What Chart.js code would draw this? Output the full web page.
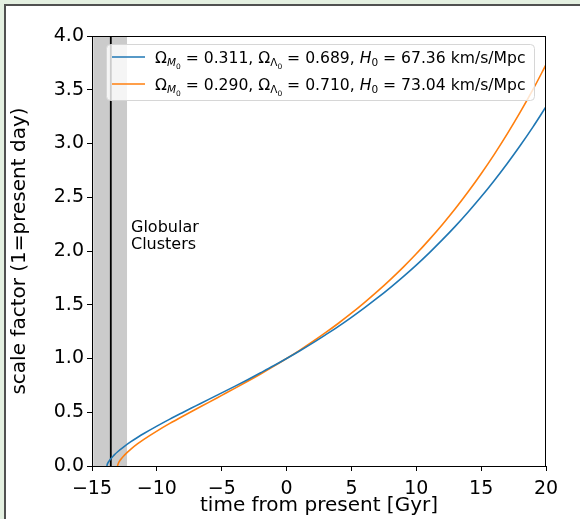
<!DOCTYPE html>
<html>
<head>
<meta charset="utf-8">
<script src="https://cdn.jsdelivr.net/npm/chart.js@4.4.1/dist/chart.umd.min.js"></script>
<style>
  body { margin: 0; background: #e4f0e1; }
  #panel { position: absolute; left: 4px; top: 4px; width: 576px; height: 515px; background: #fff;
           border-left: 2px solid #505050; border-top: 2px solid #505050; box-sizing: border-box; }
  #wrap { position: absolute; left: 0; top: 0; width: 580px; height: 519px; }
</style>
</head>
<body>
<div id="panel"></div>
<div id="wrap"><canvas id="scaleChart" width="580" height="519"></canvas></div>
<script>
// scale factor a(t), time in Gyr from present
const blueTime = [-13.86, -13.8, -13.6, -13.3, -13, -12.5, -12, -11.5, -11, -10, -9, -8, -7, -6, -5, -4, -3, -2, -1, 0,
                  1, 2, 3, 4, 5, 6, 7, 8, 9, 10, 11, 12, 13, 14, 15, 16, 17, 18, 19, 20];
const blueScale = [0, 0.022, 0.060, 0.101, 0.135, 0.183, 0.226, 0.265, 0.302, 0.371, 0.436, 0.498, 0.559, 0.620, 0.680, 0.741, 0.803, 0.867, 0.932, 1.0,
                   1.070, 1.143, 1.220, 1.299, 1.383, 1.471, 1.563, 1.660, 1.762, 1.869, 1.983, 2.103, 2.229, 2.363, 2.504, 2.654, 2.812, 2.979, 3.155, 3.342];

const orangeTime = [-13.03, -13, -12.8, -12.5, -12, -11.5, -11, -10, -9, -8, -7, -6, -5, -4, -3, -2, -1, 0,
                    1, 2, 3, 4, 5, 6, 7, 8, 9, 10, 11, 12, 13, 14, 15, 16, 17, 18, 19, 20];
const orangeScale = [0, 0.015, 0.058, 0.101, 0.157, 0.205, 0.248, 0.325, 0.396, 0.463, 0.528, 0.592, 0.657, 0.722, 0.788, 0.856, 0.927, 1.0,
                     1.076, 1.156, 1.240, 1.328, 1.421, 1.520, 1.624, 1.734, 1.850, 1.974, 2.106, 2.245, 2.393, 2.551, 2.719, 2.897, 3.087, 3.289, 3.503, 3.733];

const xTickValues = [-15, -10, -5, 0, 5, 10, 15, 20];
const yTickValues = [0, 0.5, 1, 1.5, 2, 2.5, 3, 3.5, 4];

// globular cluster age band and the marked age
const clusterBand = [-14.9, -12.3];
const clusterAge = -13.55;

const blue = '#1f77b4';
const orange = '#ff7f0e';
const FONT = '"DejaVu Sans", sans-serif';

const toPoints = (xs, ys) => xs.map((x, i) => ({ x: x, y: ys[i] }));

// gray band behind the curves
const bandPlugin = {
    id: 'band',
    beforeDatasetsDraw(chart) {
        const { ctx, chartArea, scales } = chart;
        const x0 = scales.x.getPixelForValue(clusterBand[0]);
        const x1 = scales.x.getPixelForValue(clusterBand[1]);
        ctx.save();
        ctx.fillStyle = '#cbcbcb';
        ctx.fillRect(x0, chartArea.top, x1 - x0, chartArea.bottom - chartArea.top);
        ctx.restore();
    }
};

// draws a string made of pieces with their own size / style / baseline shift
function drawPieces(ctx, pieces, x, y) {
    for (const p of pieces) {
        ctx.font = (p.italic ? 'italic ' : '') + p.size + 'px ' + FONT;
        ctx.fillText(p.t, x, y + (p.dy || 0));
        x += ctx.measureText(p.t).width;
    }
    return x;
}

function legendPieces(om, ol, h0) {
    const big = 15.6, sub = 10.5, sub2 = 7.5;
    return [
        { t: 'Ω', size: big },
        { t: 'M', size: sub, italic: true, dy: 3 },
        { t: '0', size: sub2, dy: 6 },
        { t: ' = ' + om + ', ', size: big },
        { t: 'Ω', size: big },
        { t: 'Λ', size: sub, dy: 3 },
        { t: '0', size: sub2, dy: 6 },
        { t: ' = ' + ol + ', ', size: big },
        { t: 'H', size: big, italic: true },
        { t: '0', size: sub, dy: 3 },
        { t: ' = ' + h0 + ' km/s/Mpc', size: big }
    ];
}

const overlayPlugin = {
    id: 'overlay',
    afterDatasetsDraw(chart) {
        const { ctx, chartArea } = chart;
        ctx.save();
        // top and right spines
        ctx.strokeStyle = '#000';
        ctx.lineWidth = 1;
        ctx.beginPath();
        ctx.moveTo(chartArea.left, chartArea.top + 0.5);
        ctx.lineTo(chartArea.right, chartArea.top + 0.5);
        ctx.moveTo(chartArea.right - 0.5, chartArea.top);
        ctx.lineTo(chartArea.right - 0.5, chartArea.bottom);
        ctx.stroke();

        // band label
        ctx.fillStyle = '#000';
        ctx.textBaseline = 'middle';
        ctx.font = '16px ' + FONT;
        ctx.fillText('Globular', 131, 228);
        ctx.fillText('Clusters', 131, 245);

        // legend
        const bx = 106, by = 44, bw = 428, bh = 56;
        ctx.beginPath();
        ctx.roundRect(bx + 0.5, by + 0.5, bw, bh, 4);
        ctx.fillStyle = 'rgba(255,255,255,0.8)';
        ctx.fill();
        ctx.strokeStyle = '#d6d6d6';
        ctx.stroke();

        const rows = [
            { color: blue, y: 57, pieces: legendPieces('0.311', '0.689', '67.36') },
            { color: orange, y: 84, pieces: legendPieces('0.290', '0.710', '73.04') }
        ];
        ctx.textBaseline = 'alphabetic';
        for (const r of rows) {
            ctx.strokeStyle = r.color;
            ctx.lineWidth = 1.6;
            ctx.beginPath();
            ctx.moveTo(112, r.y);
            ctx.lineTo(145, r.y);
            ctx.stroke();
            ctx.fillStyle = '#000';
            drawPieces(ctx, r.pieces, 155, r.y + 5.5);
        }
        ctx.restore();
    }
};

const ctx = document.getElementById('scaleChart').getContext('2d');
const scaleChart = new Chart(ctx, {
    type: 'line',
    data: {
        datasets: [
            {
                data: toPoints(blueTime, blueScale),
                borderColor: blue,
                borderWidth: 1.6,
                pointRadius: 0,
                cubicInterpolationMode: 'monotone'
            },
            {
                data: toPoints(orangeTime, orangeScale),
                borderColor: orange,
                borderWidth: 1.6,
                pointRadius: 0,
                cubicInterpolationMode: 'monotone'
            },
            {
                data: [{ x: clusterAge, y: 0 }, { x: clusterAge, y: 4 }],
                borderColor: '#000',
                borderWidth: 1.8,
                pointRadius: 0
            }
        ]
    },
    options: {
        responsive: false,
        animation: false,
        layout: { padding: { top: 36, right: 34, left: 0, bottom: 0 } },
        plugins: {
            legend: { display: false },
            tooltip: { enabled: false }
        },
        scales: {
            x: {
                type: 'linear',
                min: -15,
                max: 20,
                afterBuildTicks(scale) { scale.ticks = xTickValues.map(v => ({ value: v })); },
                afterFit(scale) { scale.height = 53; },
                ticks: {
                    color: '#000',
                    font: { family: FONT, size: 19 },
                    padding: 7,
                    maxRotation: 0,
                    callback: v => v < 0 ? '\u2212' + Math.abs(v) : String(v)
                },
                grid: { drawOnChartArea: false, tickLength: 5, tickColor: '#000' },
                border: { color: '#000', width: 1 },
                title: {
                    display: true,
                    text: 'time from present [Gyr]',
                    color: '#000',
                    font: { family: FONT, size: 20 },
                    padding: { top: 0, bottom: 1 }
                }
            },
            y: {
                type: 'linear',
                min: 0,
                max: 4,
                afterBuildTicks(scale) { scale.ticks = yTickValues.map(v => ({ value: v })); },
                afterFit(scale) { scale.width = 92; },
                ticks: {
                    color: '#000',
                    font: { family: FONT, size: 19 },
                    padding: 3,
                    callback: v => v.toFixed(1)
                },
                grid: { drawOnChartArea: false, tickLength: 5, tickColor: '#000' },
                border: { color: '#000', width: 1 },
                title: {
                    display: true,
                    text: 'scale factor (1=present day)',
                    color: '#000',
                    font: { family: FONT, size: 20 },
                    padding: { top: 8, bottom: 0 }
                }
            }
        }
    },
    plugins: [bandPlugin, overlayPlugin]
});
</script>
</body>
</html>
